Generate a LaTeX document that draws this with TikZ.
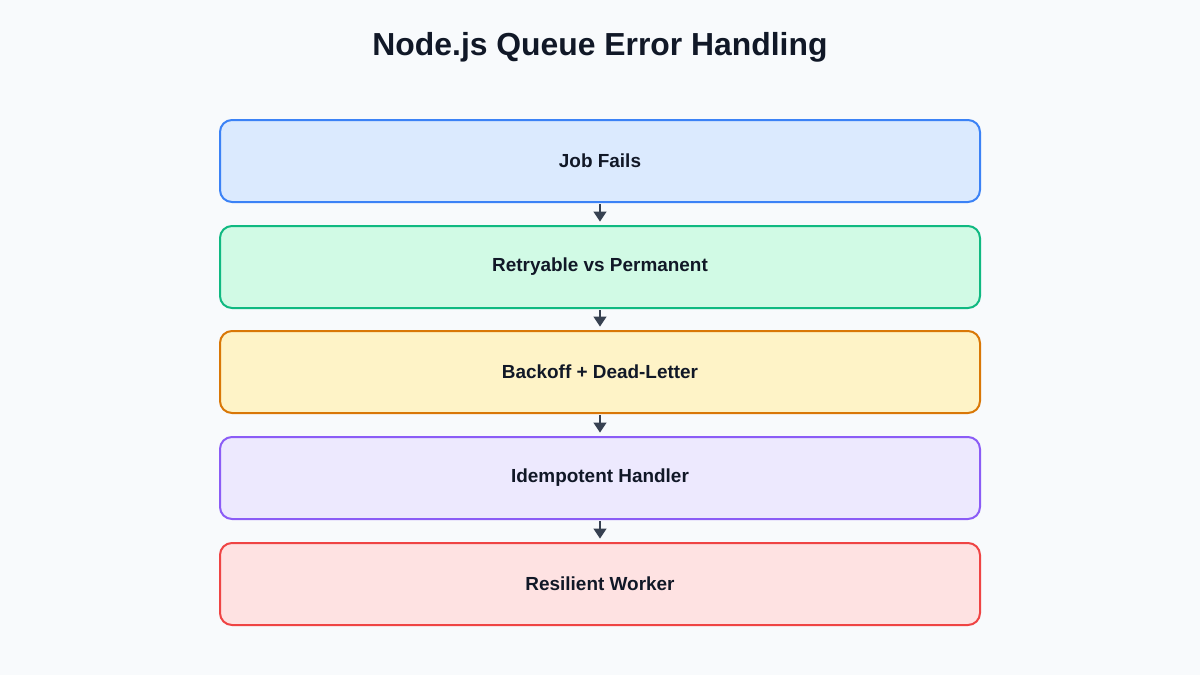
\documentclass[tikz,border=0pt]{standalone}
\usepackage{fontspec}
\setmainfont{Liberation Sans}
\usetikzlibrary{arrows.meta}

\definecolor{pagebg}{HTML}{F8FAFC}
\definecolor{inkdark}{HTML}{111827}
\definecolor{arrowink}{HTML}{374151}
\definecolor{blueline}{HTML}{3B82F6}\definecolor{bluefill}{HTML}{DBEAFE}
\definecolor{greenline}{HTML}{10B981}\definecolor{greenfill}{HTML}{D1FAE5}
\definecolor{amberline}{HTML}{D97706}\definecolor{amberfill}{HTML}{FEF3C7}
\definecolor{purpleline}{HTML}{8B5CF6}\definecolor{purplefill}{HTML}{EDE9FE}
\definecolor{redline}{HTML}{EF4444}\definecolor{redfill}{HTML}{FEE2E2}

\tikzset{
  stagebox/.style={draw, line width=1.5pt, rounded corners=9pt,
    minimum width=570pt, minimum height=61.5pt, inner sep=0pt,
    text=inkdark, font=\bfseries\fontsize{14.2pt}{17pt}\selectfont},
  flow/.style={draw=arrowink, line width=1.5pt,
    -{Triangle[length=7.5pt,width=9.5pt]}, shorten >=2.5pt, shorten <=1pt},
}

\begin{document}
\begin{tikzpicture}[x=0.75pt,y=-0.75pt]
  \fill[pagebg] (0,0) rectangle (1200,675);
  \useasboundingbox (0,0) rectangle (1200,675);

  \node[text=inkdark, font=\bfseries\fontsize{23.9pt}{28pt}\selectfont] (title) at (600,47) {Node.js Queue Error Handling};

  \node[stagebox, draw=blueline, fill=bluefill] (fails) at (600,161) {Job Fails};
  \node[stagebox, draw=greenline, fill=greenfill] (classify) at (600,267) {Retryable vs Permanent};
  \node[stagebox, draw=amberline, fill=amberfill] (backoff) at (600,372) {Backoff + Dead-Letter};
  \node[stagebox, draw=purpleline, fill=purplefill] (idem) at (600,478) {Idempotent Handler};
  \node[stagebox, draw=redline, fill=redfill] (worker) at (600,584) {Resilient Worker};

  \draw[flow] (fails) -- (classify);
  \draw[flow] (classify) -- (backoff);
  \draw[flow] (backoff) -- (idem);
  \draw[flow] (idem) -- (worker);
\end{tikzpicture}
\end{document}
